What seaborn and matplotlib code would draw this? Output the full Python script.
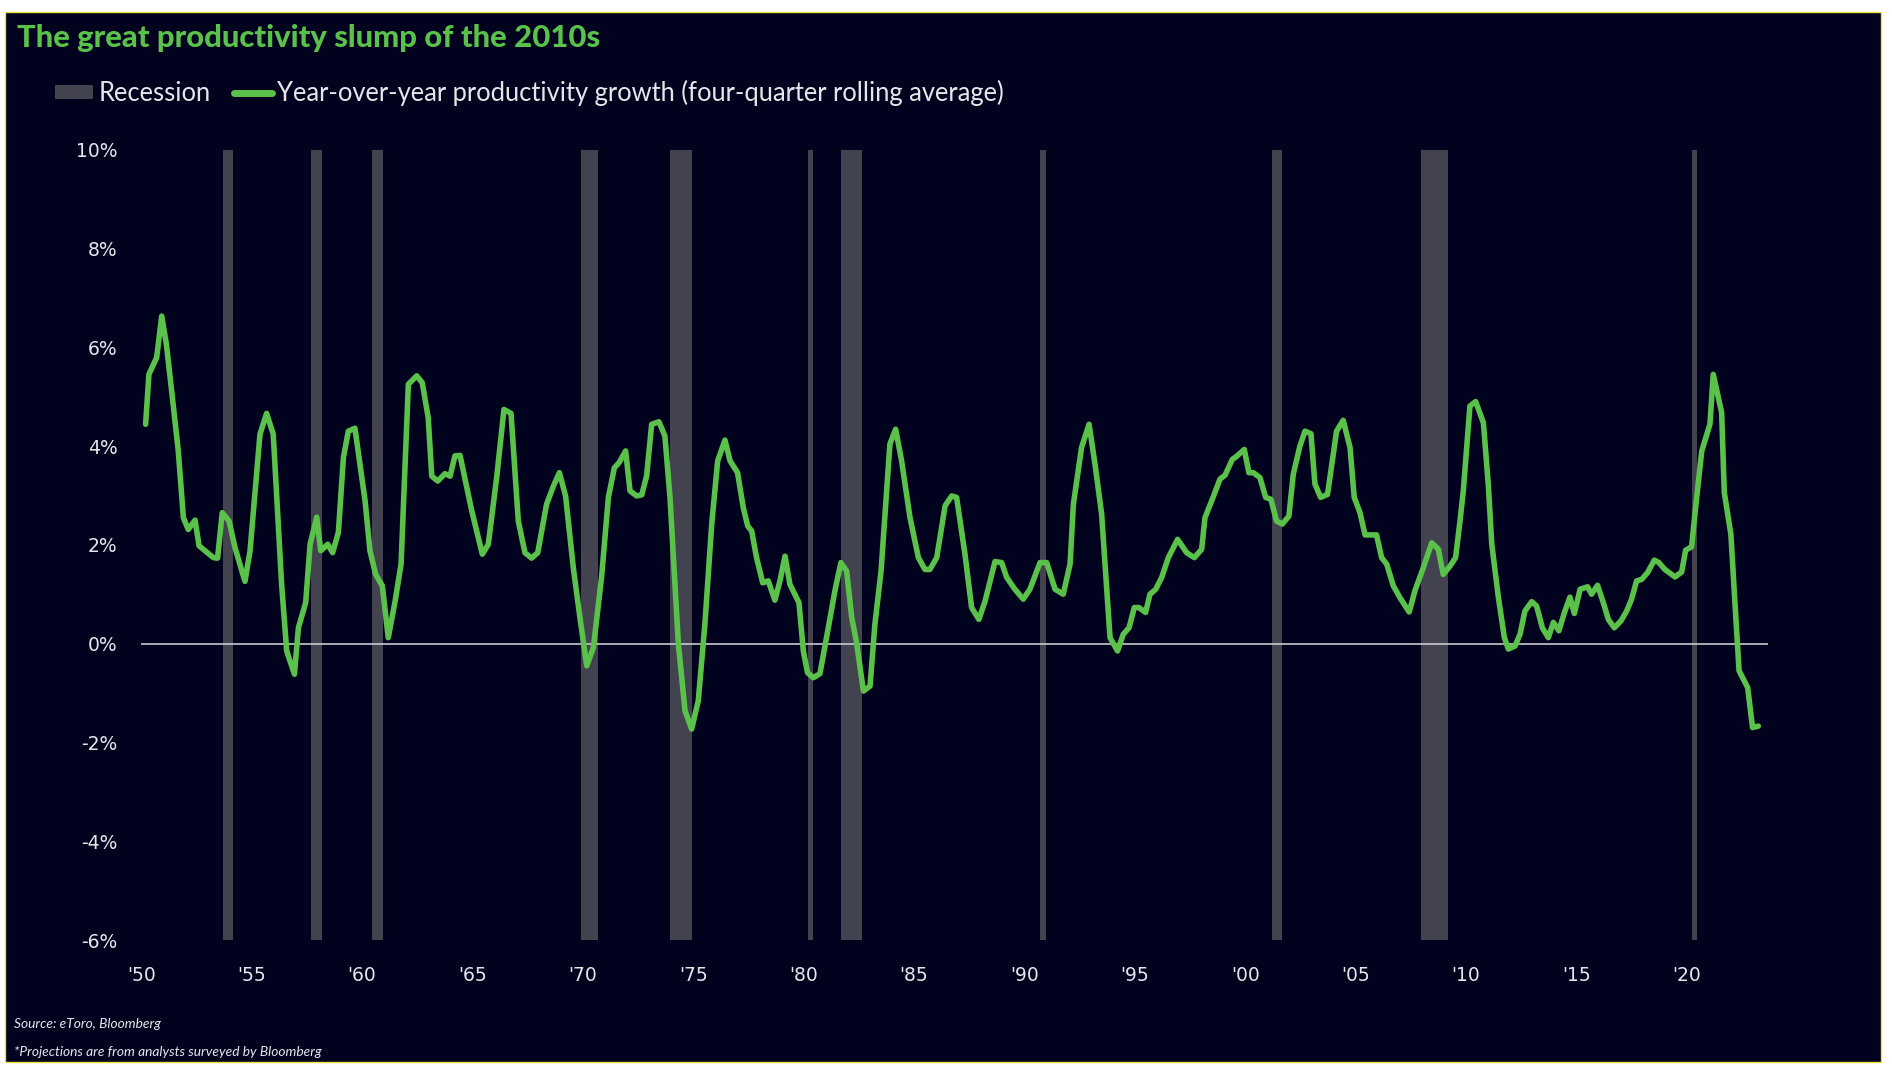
import numpy as np
import pandas as pd
import matplotlib
matplotlib.use("Agg")
import matplotlib.pyplot as plt
from matplotlib.patches import Rectangle, Patch
from matplotlib.lines import Line2D
import seaborn as sns

# ---------------- data ----------------
years = [
    1950.20, 1950.35, 1950.70, 1950.93, 1951.14, 1951.38, 1951.68, 1951.91, 1952.13, 1952.44,
    1952.62, 1952.89, 1953.27, 1953.46, 1953.67, 1953.98, 1954.25, 1954.70, 1954.93, 1955.38,
    1955.68, 1955.98, 1956.36, 1956.59, 1956.94, 1957.12, 1957.45, 1957.65, 1957.95, 1958.13,
    1958.45, 1958.67, 1958.93, 1959.16, 1959.38, 1959.68, 1960.14, 1960.36, 1960.62, 1960.92,
    1961.19, 1961.50, 1961.77, 1962.10, 1962.48, 1962.73, 1963.00, 1963.16, 1963.43, 1963.76,
    1963.99, 1964.21, 1964.44,
    1964.97, 1965.45, 1965.72, 1966.10, 1966.43, 1966.75, 1967.08, 1967.38, 1967.68, 1967.96,
    1968.36, 1968.67, 1968.94, 1969.22, 1969.57, 1969.87, 1970.18, 1970.48, 1970.85, 1971.16,
    1971.43, 1971.64, 1971.94, 1972.14, 1972.44, 1972.67, 1972.89, 1973.12, 1973.45, 1973.72,
    1973.95, 1974.33, 1974.63, 1974.93, 1975.23, 1975.53, 1975.84, 1976.11, 1976.44, 1976.67,
    1977.01, 1977.27, 1977.47, 1977.65, 1977.87, 1978.15, 1978.40, 1978.70, 1978.93, 1979.16,
    1979.38,
    1979.79, 1979.99, 1980.18, 1980.44, 1980.74, 1981.12, 1981.42, 1981.69, 1981.95, 1982.18,
    1982.40, 1982.71, 1983.01, 1983.23, 1983.51, 1983.91, 1984.17, 1984.44, 1984.82, 1985.20,
    1985.50, 1985.72, 1986.03, 1986.41, 1986.71, 1986.93, 1987.31, 1987.61, 1987.94, 1988.22,
    1988.67, 1988.97, 1989.20, 1989.57, 1989.95, 1990.25, 1990.71, 1991.01, 1991.39, 1991.76,
    1992.07, 1992.22, 1992.59, 1992.93, 1993.20, 1993.50, 1993.88, 1994.22,
    1994.48, 1994.74, 1994.98, 1995.19, 1995.49, 1995.69, 1995.95, 1996.22, 1996.52, 1996.94,
    1997.35, 1997.70, 1998.03, 1998.18, 1998.51, 1998.86, 1999.09, 1999.42, 1999.61, 1999.96,
    2000.17, 2000.37, 2000.67, 2000.93, 2001.17, 2001.42, 2001.68, 2001.98, 2002.18, 2002.48,
    2002.71, 2002.98, 2003.16, 2003.42, 2003.73, 2004.14, 2004.44, 2004.75, 2004.94, 2005.20,
    2005.43, 2005.95, 2006.18, 2006.41, 2006.71, 2007.01, 2007.43, 2007.69, 2008.07, 2008.45,
    2008.75, 2008.97, 2009.28, 2009.53,
    2009.73, 2009.88, 2010.18, 2010.44, 2010.79, 2011.01, 2011.17, 2011.47, 2011.74, 2011.92,
    2012.22, 2012.45, 2012.67, 2012.98, 2013.20, 2013.46, 2013.73, 2013.96, 2014.21, 2014.46,
    2014.71, 2014.91, 2015.17, 2015.51, 2015.69, 2015.96, 2016.22, 2016.45, 2016.72, 2017.02,
    2017.28, 2017.50, 2017.73, 2017.96, 2018.23, 2018.53, 2018.74, 2019.01, 2019.47, 2019.77,
    2019.95, 2020.22, 2020.40, 2020.68, 2021.05, 2021.20, 2021.58, 2021.70, 2022.00, 2022.15,
    2022.37, 2022.76, 2022.98, 2023.24,
]
productivity_growth = [
    4.44, 5.45, 5.79, 6.63, 6.06, 5.11, 3.90, 2.55, 2.31, 2.50,
    1.98, 1.88, 1.74, 1.73, 2.65, 2.48, 1.94, 1.26, 1.88, 4.24,
    4.66, 4.24, 1.20, -0.15, -0.62, 0.32, 0.83, 2.01, 2.56, 1.88,
    2.01, 1.84, 2.25, 3.77, 4.30, 4.36, 2.89, 1.88, 1.40, 1.17,
    0.12, 0.86, 1.61, 5.25, 5.42, 5.28, 4.57, 3.39, 3.29, 3.44,
    3.39, 3.80, 3.81,
    2.69, 1.81, 2.01, 3.36, 4.74, 4.66, 2.48, 1.84, 1.73, 1.84,
    2.82, 3.19, 3.46, 2.99, 1.54, 0.53, -0.45, -0.08, 1.34, 2.96,
    3.56, 3.66, 3.90, 3.09, 2.99, 3.01, 3.39, 4.44, 4.49, 4.20,
    2.96, -0.01, -1.36, -1.73, -1.16, 0.39, 2.42, 3.70, 4.12, 3.70,
    3.46, 2.75, 2.38, 2.28, 1.74, 1.23, 1.27, 0.88, 1.27, 1.77,
    1.20,
    0.83, -0.15, -0.59, -0.69, -0.61, 0.32, 1.07, 1.64, 1.47, 0.53,
    0.02, -0.96, -0.86, 0.39, 1.47, 4.04, 4.34, 3.70, 2.55, 1.74,
    1.50, 1.50, 1.74, 2.79, 2.99, 2.96, 1.81, 0.73, 0.49, 0.86,
    1.66, 1.64, 1.34, 1.10, 0.90, 1.10, 1.64, 1.64, 1.10, 1.00,
    1.61, 2.82, 3.97, 4.44, 3.63, 2.62, 0.12, -0.15,
    0.19, 0.32, 0.73, 0.73, 0.63, 1.00, 1.10, 1.34, 1.74, 2.11,
    1.84, 1.74, 1.91, 2.55, 2.92, 3.33, 3.41, 3.73, 3.79, 3.93,
    3.46, 3.46, 3.36, 2.96, 2.92, 2.48, 2.42, 2.58, 3.43, 4.00,
    4.30, 4.25, 3.23, 2.96, 3.02, 4.30, 4.52, 3.97, 2.96, 2.65,
    2.20, 2.20, 1.74, 1.61, 1.17, 0.93, 0.64, 1.07, 1.54, 2.04,
    1.91, 1.40, 1.57, 1.74,
    2.48, 3.09, 4.81, 4.90, 4.47, 3.23, 2.01, 0.93, 0.12, -0.11,
    -0.05, 0.19, 0.66, 0.85, 0.76, 0.32, 0.12, 0.43, 0.26, 0.63,
    0.94, 0.61, 1.10, 1.15, 1.00, 1.18, 0.83, 0.49, 0.32, 0.46,
    0.66, 0.90, 1.27, 1.30, 1.44, 1.69, 1.64, 1.50, 1.35, 1.45,
    1.89, 1.96, 2.75, 3.90, 4.44, 5.45, 4.68, 3.06, 2.21, 1.07,
    -0.55, -0.89, -1.70, -1.67,
]

recession_start = [1953.69, 1957.69, 1960.44, 1969.93, 1973.95, 1980.21, 1981.71, 1990.71, 2001.23, 2007.96, 2020.24]
recession_end   = [1954.17, 1958.20, 1960.93, 1970.67, 1974.96, 1980.44, 1982.66, 1990.98, 2001.68, 2009.17, 2020.47]

x_tick_values = [1950, 1955, 1960, 1965, 1970, 1975, 1980, 1985, 1990, 1995, 2000, 2005, 2010, 2015, 2020]
x_tick_labels = ["'50", "'55", "'60", "'65", "'70", "'75", "'80", "'85", "'90", "'95",
                 "'00", "'05", "'10", "'15", "'20"]
y_tick_values = [-6, -4, -2, 0, 2, 4, 6, 8, 10]
y_tick_labels = ["-6%", "-4%", "-2%", "0%", "2%", "4%", "6%", "8%", "10%"]

title = "The great productivity slump of the 2010s"
legend_labels = ["Recession", "Year-over-year productivity growth (four-quarter rolling average)"]
source_text = "Source: eToro, Bloomberg"
note_text = "*Projections are from analysts surveyed by Bloomberg"

# ---------------- style ----------------
NAVY = "#01021E"
GREEN = "#5AC24A"
REC = "#43424F"
TXT = "#E6E6EA"

sns.set_style("dark")
plt.rcParams["font.family"] = ["Lato", "DejaVu Sans"]

W, H = 1892, 1074
fig = plt.figure(figsize=(W / 100, H / 100), dpi=100)
fig.patch.set_facecolor("white")
fig.patches.append(Rectangle((5 / W, 12 / H), (1881 - 5) / W, (1062 - 12) / H,
                             transform=fig.transFigure, facecolor=NAVY,
                             edgecolor="#E9E23A", linewidth=1.0, zorder=-10))

ax = fig.add_axes([141.2 / W, (H - 940) / H, (1768 - 141.2) / W, (940 - 149.6) / H])
ax.set_facecolor("none")

for s, e in zip(recession_start, recession_end):
    ax.axvspan(s, e, color=REC, lw=0, zorder=1)

ax.axhline(0, color="#C9C9D2", lw=1.2, zorder=2)

df = pd.DataFrame({"year": years, "growth": productivity_growth})
sns.lineplot(data=df, x="year", y="growth", color=GREEN, linewidth=4.0,
             ax=ax, legend=False, zorder=3, sort=False)

ax.set_xlim(1950, 2023.68)
ax.set_ylim(-6, 10)
ax.set_xticks(x_tick_values)
ax.set_xticklabels(x_tick_labels, family=["DejaVu Sans"])
ax.set_yticks(y_tick_values)
ax.set_yticklabels(y_tick_labels, family=["DejaVu Sans"])
ax.tick_params(axis="both", length=0, labelcolor=TXT, labelsize=13.5)
ax.tick_params(axis="x", pad=19)
ax.tick_params(axis="y", pad=17)
ax.grid(False)
for sp in ax.spines.values():
    sp.set_visible(False)
ax.set_xlabel("")
ax.set_ylabel("")

fig.text(17 / W, 1 - 38 / H, title, fontsize=22.3, fontweight="black", color=GREEN,
         va="center", ha="left")

handles = [Patch(facecolor=REC, edgecolor="none"), Line2D([], [], color=GREEN, lw=5)]
fig.legend(handles, legend_labels, loc="center left", bbox_to_anchor=(55 / W, 1 - 93 / H),
           ncol=2, frameon=False, fontsize=18.4, labelcolor=TXT, handlelength=1.5,
           handleheight=0.5, handletextpad=0.2, columnspacing=0.9,
           borderpad=0, borderaxespad=0)

fig.text(14 / W, 1 - 1024 / H, source_text, fontsize=9.9, style="italic", color=TXT,
         va="center", ha="left")
fig.text(14 / W, 1 - 1052 / H, note_text, fontsize=9.9, style="italic", color=TXT,
         va="center", ha="left")

fig.savefig("out.png", dpi=100, facecolor=fig.get_facecolor())
